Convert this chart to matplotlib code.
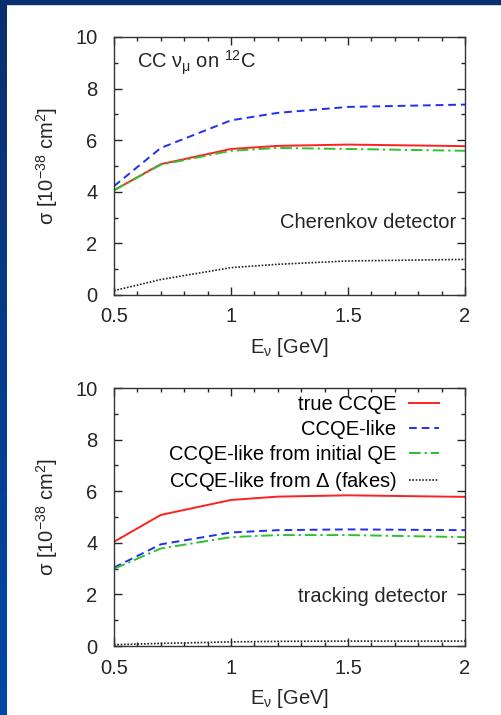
import numpy as np
import matplotlib.pyplot as plt
from matplotlib.patches import Rectangle
from matplotlib.colors import LinearSegmentedColormap
from matplotlib.ticker import MultipleLocator

plt.rcParams['font.family'] = ['Liberation Sans', 'DejaVu Sans']
plt.rcParams['mathtext.fontset'] = 'custom'
plt.rcParams['mathtext.rm'] = 'Liberation Sans'
plt.rcParams['mathtext.it'] = 'Liberation Sans'

# neutrino energy grid [GeV]
energy = [0.5, 0.7, 1.0, 1.2, 1.5, 2.0]

# Cherenkov detector, cross sections in 1e-38 cm^2
cher_true = [4.06, 5.07, 5.66, 5.78, 5.83, 5.77]
cher_like = [4.22, 5.70, 6.77, 7.06, 7.29, 7.38]
cher_qe = [4.06, 5.05, 5.59, 5.70, 5.66, 5.59]
cher_fake = [0.17, 0.60, 1.06, 1.19, 1.32, 1.38]

# tracking detector
trk_true = [4.04, 5.08, 5.66, 5.79, 5.84, 5.78]
trk_like = [3.04, 3.94, 4.40, 4.49, 4.52, 4.49]
trk_qe = [2.99, 3.78, 4.22, 4.30, 4.30, 4.22]
trk_fake = [0.05, 0.10, 0.16, 0.18, 0.19, 0.19]

labels = ['true CCQE', 'CCQE-like', 'CCQE-like from initial QE',
          'CCQE-like from $\\Delta$ (fakes)']

FS = 14.5
TXT = '#262626'

W, H = 502, 715
fig = plt.figure(figsize=(W / 100, H / 100), dpi=100)
fig.patch.set_facecolor('white')

# slide frame: dark strip on top, gradient bar on the left
bar = fig.add_axes([0, 0, 7 / W, 1], zorder=-5)
cmap = LinearSegmentedColormap.from_list('slide', ['#0a2f6e', '#0048a8'])
bar.imshow(np.linspace(0, 1, 256)[:, None], aspect='auto', cmap=cmap)
bar.axis('off')
fig.patches.append(Rectangle((0, 1 - 4 / H), 1, 4 / H, transform=fig.transFigure,
                             color='#0a2f6e', zorder=-4))


def style(ax):
    ax.set_xlim(0.5, 2)
    ax.set_ylim(0, 10)
    ax.xaxis.set_major_locator(MultipleLocator(0.5))
    ax.xaxis.set_minor_locator(MultipleLocator(0.1))
    ax.yaxis.set_major_locator(MultipleLocator(2))
    ax.yaxis.set_minor_locator(MultipleLocator(1))
    ax.tick_params(which='both', direction='in', top=True, right=True,
                   labelsize=FS, colors=TXT, width=1)
    ax.tick_params(which='major', length=6)
    ax.tick_params(which='minor', length=3)
    ax.tick_params(axis='y', which='major', pad=12)
    ax.tick_params(axis='x', which='major', pad=9)
    ax.set_xticks([0.5, 1, 1.5, 2])
    ax.set_xticklabels(['0.5', '1', '1.5', '2'])
    for s in ax.spines.values():
        s.set_color('#333333')
        s.set_linewidth(1)
    ax.set_xlabel('E$_\\nu$ [GeV]', fontsize=FS, color=TXT, labelpad=7)
    ax.set_ylabel('$\\sigma$ [10$^{-38}$ cm$^2$]', fontsize=FS, color=TXT,
                  labelpad=11)


def draw(ax, t, l, q, f, legend=False):
    ax.plot(energy, t, color='#ff2020', lw=1.4, label=labels[0])
    ax.plot(energy, l, color='#2030f0', lw=1.4, ls=(0, (4, 2.5)), label=labels[1])
    ax.plot(energy, q, color='#30c030', lw=1.4, ls=(0, (6, 2, 1.2, 2)), label=labels[2])
    ax.plot(energy, f, color='#222222', lw=1.2, ls=(0, (1, 1)), label=labels[3])
    if legend:
        ax.legend(loc='upper right', frameon=False, fontsize=FS, markerfirst=False,
                  handlelength=1.45, labelspacing=0.3, handletextpad=0.65,
                  borderaxespad=0.0, borderpad=0.35, bbox_to_anchor=(0.945, 1.0))


ax1 = fig.add_axes([114 / W, 1 - 295 / H, 351 / W, 258 / H])
draw(ax1, cher_true, cher_like, cher_qe, cher_fake)
style(ax1)
ax1.text(0.065, 0.9, 'CC $\\nu_\\mu$ on $^{12}$C', transform=ax1.transAxes,
         fontsize=FS, color=TXT, va='center')
ax1.text(0.975, 0.28, 'Cherenkov detector', transform=ax1.transAxes,
         fontsize=FS, color=TXT, ha='right', va='center')

ax2 = fig.add_axes([114 / W, 1 - 646 / H, 351 / W, 258 / H])
draw(ax2, trk_true, trk_like, trk_qe, trk_fake, legend=True)
style(ax2)
ax2.text(0.95, 0.19, 'tracking detector', transform=ax2.transAxes,
         fontsize=FS, color=TXT, ha='right', va='center')

fig.savefig('out.png', dpi=100)
